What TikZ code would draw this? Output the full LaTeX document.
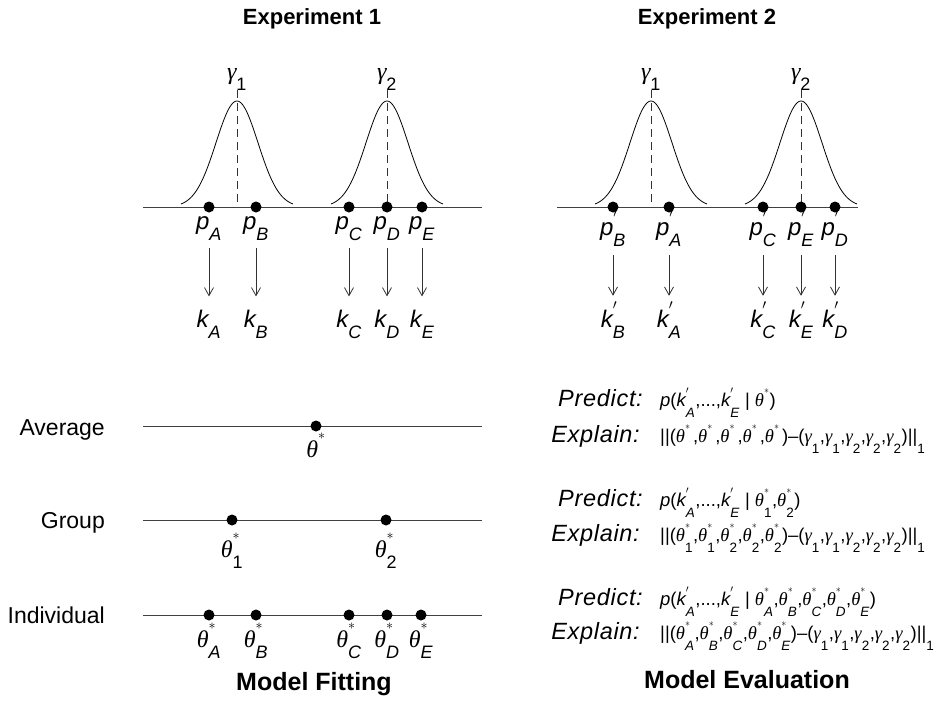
\RequirePackage{fix-cm}
\documentclass[tikz,border=0pt]{standalone}
\usepackage{amsmath}
\usepackage{fontspec}
\setmainfont{Liberation Sans}
\newfontfamily\lblfont[LetterSpace=3]{Liberation Sans}
\newfontfamily\grk{Liberation Serif}
\usetikzlibrary{arrows.meta}
\DeclareMathSizes{24}{24}{18}{14}
\DeclareMathSizes{18.5}{18.5}{13.5}{10}
\newcommand{\vi}[1]{\textit{#1}}
\newcommand{\subdrop}{0.46em}
\newcommand{\supraise}{0.72em}
\newcommand{\M}[1]{$\fontdimen16\textfont2=\subdrop\relax\fontdimen17\textfont2=\subdrop\relax
  \fontdimen13\textfont2=\supraise\relax\fontdimen14\textfont2=\supraise\relax\fontdimen15\textfont2=\supraise\relax #1$}
\newcommand{\thet}{\text{\grk\itshape θ}}
\newcommand{\gam}{\text{\grk\itshape γ}}
\newcommand{\pr}{{\scriptscriptstyle\prime}}
\newcommand{\st}{{\scriptscriptstyle *}}
\newcommand{\stp}{\rlap{$\scriptscriptstyle *$}\hphantom{\text{1}}}
\newcommand{\ts}{\thet^{\st}}
\newcommand{\tsw}{\thet^{\stp}}
\newcommand{\tsb}[1]{\thet^{\st}_{\vi{#1}}}
\newcommand{\tsn}[1]{\thet^{\st}_{\text{#1}}}
\newcommand{\gs}[1]{\gam_{\text{#1}}}
\newcommand{\cm}{\text{,}}
\newcommand{\kk}[1]{\vi{k}^{\pr}_{\vi{#1}}}
\begin{document}
\begin{tikzpicture}[x=1pt,y=-1pt,
  axisline/.style={line width=0.9pt, black!75},
  gcurve/.style={line width=0.8pt, black},
  gdash/.style={line width=0.8pt, black!80, dash pattern=on 8pt off 5pt},
  pdot/.style={circle, fill=black, inner sep=0pt, minimum size=11pt},
  arr/.style={line width=0.8pt, black!80, -{Straight Barb[length=8pt,width=9pt,line width=0.8pt]}},
  mlbl/.style={inner sep=0pt, anchor=base, font=\fontsize{24}{28}\selectfont\renewcommand{\subdrop}{0.46em}\renewcommand{\supraise}{0.72em}},
  rowlbl/.style={inner sep=0pt, anchor=base east, font=\fontsize{23}{27}\selectfont},
  ttl/.style={inner sep=0pt, anchor=base, font=\fontsize{22}{26}\selectfont\bfseries},
  bigttl/.style={inner sep=0pt, anchor=base, font=\fontsize{25}{30}\selectfont\bfseries},
  flbl/.style={inner sep=0pt, anchor=base east, font=\fontsize{23.5}{27}\selectfont\lblfont\itshape},
  fml/.style={inner sep=0pt, anchor=base west, font=\fontsize{18.5}{22}\selectfont\renewcommand{\subdrop}{0.62em}\renewcommand{\supraise}{0.66em}},
]
\useasboundingbox[fill=white] (0,0) rectangle (940,702);

% ---------- titles
\node[ttl] (t1) at (312,24) {Experiment 1};
\node[ttl] (t2) at (707,24) {Experiment 2};
\node[bigttl] (mf) at (314,690) {Model Fitting};
\node[bigttl] (me) at (747,688) {Model Evaluation};

% ---------- Experiment 1
\draw[axisline] (143,207) -- (482,207);
\foreach \c/\g in {237/1,387/2}{
  \draw[gcurve] plot[domain=-56:56, samples=81, smooth] ({\c+\x},{207-106*exp(-(\x*\x)/882)});
  \node[mlbl] (g1\g) at (\c,79) {\M{\gs{\g}}};
  \draw[gdash] (g1\g.south -| \c,88) -- (\c,207);
}
\foreach \n/\x in {A/209,B/256,C/349,D/387,E/422}{
  \node[pdot] (d1\n) at (\x,207) {};
  \node[mlbl] (p1\n) at (\x,229) {\M{\vi{p}_{\vi{\n}}}};
  \node[mlbl] (k1\n) at (\x,327) {\M{\vi{k}_{\vi{\n}}}};
  \draw[arr, shorten <=8pt, shorten >=13pt] (p1\n.south -| d1\n) -- (k1\n.north -| d1\n);
}

% ---------- Experiment 2
\draw[axisline] (557,207) -- (858,207);
\foreach \c/\g in {651/1,801/2}{
  \draw[gcurve] plot[domain=-56:56, samples=81, smooth] ({\c+\x},{207-106*exp(-(\x*\x)/882)});
  \node[mlbl] (g2\g) at (\c,79) {\M{\gs{\g}}};
  \draw[gdash] (g2\g.south -| \c,88) -- (\c,207);
}
\foreach \n/\x in {B/613,A/669,C/763,E/801,D/835}{
  \node[pdot] (d2\n) at (\x,207) {};
  \node[mlbl] (p2\n) at (\x,235) {\M{\vi{p}^{\pr}_{\vi{\n}}}};
  \node[mlbl] (k2\n) at (\x,327) {\M{\kk{\n}}};
  \draw[arr, shorten <=9pt, shorten >=6pt] (p2\n.south -| d2\n) -- (k2\n.north -| d2\n);
}

% ---------- Model fitting rows
\node[rowlbl] (avg) at (105,435) {Average};
\node[rowlbl] (grp) at (105,528) {Group};
\node[rowlbl] (ind) at (105,623) {Individual};
\draw[axisline] (143,426) -- (482,426);
\draw[axisline] (143,520) -- (482,520);
\draw[axisline] (143,615) -- (482,615);

\node[pdot] (a0) at (316,426) {};
\node[mlbl] (la0) at (316,457) {\M{\ts}};

\node[pdot] (g1) at (232,520) {};
\node[pdot] (g2) at (386,520) {};
\node[mlbl] (lg1) at (232,557) {\M{\tsn{1}}};
\node[mlbl] (lg2) at (386,557) {\M{\tsn{2}}};

\foreach \n/\x in {A/209,B/256,C/349,D/387,E/421}{
  \node[pdot] (i\n) at (\x,615) {};
  \node[mlbl] (li\n) at (\x,647) {\M{\tsb{\n}}};
}

% ---------- Model evaluation formulas
\node[flbl] (pa) at (643,406) {Predict:};
\node[fml]  (fpa) at (660,406) {\M{\vi{p}\text{(}\kk{A}\text{,...,}\kk{E}\ \text{|}\ \ts\text{)}}};
\node[flbl] (ea) at (640,442) {Explain:};
\node[fml]  (fea) at (660,442) {\M{\text{||(}\tsw\cm\tsw\cm\tsw\cm\tsw\cm\tsw\text{)–(}\gs{1}\cm\gs{1}\cm\gs{2}\cm\gs{2}\cm\gs{2}\text{)||}_{\text{1}}}};

\node[flbl] (pg) at (643,506) {Predict:};
\node[fml]  (fpg) at (660,506) {\M{\vi{p}\text{(}\kk{A}\text{,...,}\kk{E}\ \text{|}\ \tsn{1}\cm\tsn{2}\text{)}}};
\node[flbl] (eg) at (640,541) {Explain:};
\node[fml]  (feg) at (660,541) {\M{\text{||(}\tsn{1}\cm\tsn{1}\cm\tsn{2}\cm\tsn{2}\cm\tsn{2}\text{)–(}\gs{1}\cm\gs{1}\cm\gs{2}\cm\gs{2}\cm\gs{2}\text{)||}_{\text{1}}}};

\node[flbl] (pi) at (643,605) {Predict:};
\node[fml]  (fpi) at (660,605) {\M{\vi{p}\text{(}\kk{A}\text{,...,}\kk{E}\ \text{|}\ \tsb{A}\cm\tsb{B}\cm\tsb{C}\cm\tsb{D}\cm\tsb{E}\text{)}}};
\node[flbl] (ei) at (640,639) {Explain:};
\node[fml]  (fei) at (660,639) {\M{\text{||(}\tsb{A}\cm\tsb{B}\cm\tsb{C}\cm\tsb{D}\cm\tsb{E}\text{)–(}\gs{1}\cm\gs{1}\cm\gs{2}\cm\gs{2}\cm\gs{2}\text{)||}_{\text{1}}}};
\end{tikzpicture}
\end{document}
